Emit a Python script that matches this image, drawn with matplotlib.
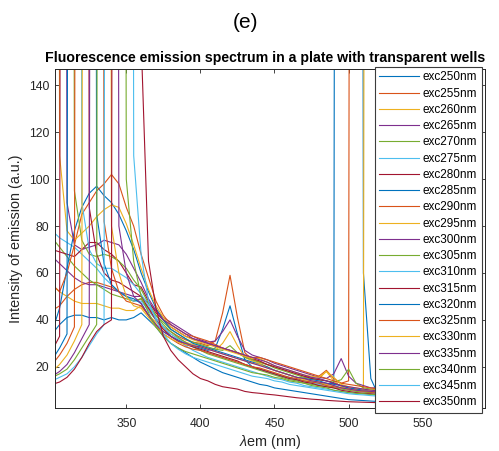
import matplotlib
matplotlib.use("Agg")
import matplotlib.pyplot as plt

plt.rcParams['font.family'] = ['Liberation Sans', 'DejaVu Sans']
plt.rcParams['mathtext.fontset'] = 'custom'
plt.rcParams['mathtext.it'] = 'Liberation Sans:italic'
plt.rcParams['mathtext.rm'] = 'Liberation Sans'

# emission wavelength grid (nm)
wl = list(range(300, 591, 5))

exc = [250, 255, 260, 265, 270, 275, 280, 285, 290, 295, 300,
       305, 310, 315, 320, 325, 330, 335, 340, 345, 350]
labels = ['exc%dnm' % e for e in exc]

S = 2000  # saturated scatter peak (off the chart)

exc250 = [34, 38, 41, 42, 42, 41, 41, 40, 41, 40, 40, 41, 43, 40, 37, 35,
          33, 31.5, 30, 29, 28, 27, 28, 36, 46, 34, 23, 20, 19, 18, 17, 16, 15.5, 14.5, 14, 13.5, 13, 12.5, 13, S, S,
          S, 60, 15, 8, 7.5, 7.3, 7, 6.8, 6.6, 6.4, 6.2, 6, 5.8, 5.6, 5.4, 5.2, 5, 4.8]
exc255 = [44, 46, 50, 53, 55, 56, 56, 55, 54, 52, 50, 48, 49, 44, 40, 37,
          35, 33, 31.5, 30.5, 30, 29, 31, 43, 59, 41, 26, 23, 22, 21, 20, 19, 18, 17, 16, 15.5, 16, 18.5, 15, 13, 14,
          S, S, S, 60, 12, 8.5, 8.2, 8, 7.8, 7.6, 7.4, 7.2, 7, 6.8, 6.6, 6.4, 6.2, 6]
exc260 = [55, 52, 50, 48, 47, 47, 47, 46, 45, 45, 44, 44, 46, 42, 39, 36,
          34, 32, 30.5, 29.5, 29, 28, 27, 30, 35, 29, 24, 22.5, 21.5, 20, 18.5, 17.5, 16.5, 15.5, 15, 14.5, 15, 18, 14, 11.5, 10.5,
          10, 10, S, S, S, 60, 12, 8.5, 8.2, 8, 7.8, 7.6, 7.3, 7, 6.8, 6.6, 6.4, 6.2]
exc265 = [67, 64, 61, 58, 56, 55, 55, 54, 53, 52, 51, 50, 50, 47, 44, 41,
          39, 37, 35, 33, 31.5, 30.5, 31, 35, 40, 33, 27, 25, 24, 23, 21.5, 20.5, 19.5, 18.5, 17.5, 16.5, 15.5, 15, 17, 23.5, 16,
          13, 12, 11, 11, S, S, S, 60, 12, 9, 8.5, 8, 7.5, 7.2, 7, 6.8, 6.6, 6.5]
exc270 = [75, 71, 67, 63, 60, 57, 55, 53, 51, 50, 49, 48, 49, 45, 42, 39,
          36, 34, 32, 30.5, 29.5, 28.5, 27.5, 27, 29, 26, 24, 23, 22, 21, 19.5, 18.5, 17.5, 16.5, 15.5, 15, 14.5, 14, 13.5, 14.5, 19,
          13, 11, 10.5, 10, 10, 9.5, S, S, S, 50, 11, 8.5, 8, 7.6, 7.3, 7, 6.8, 6.5]
exc275 = [78, 75, 73, 71, 68, 65, 62, 58, 55, 52, 50, 48, 48, 44, 40, 37,
          34, 32, 30, 28.5, 27, 26, 25, 24, 23, 22, 21, 20, 19, 18, 17, 16, 15, 14.5, 13.5, 13, 12.5, 12, 11.5, 11, 10.5,
          10, 9.5, 9, 8.8, 8.5, 8.2, 8, 8, S, S, S, 50, 10, 7.5, 7.2, 7, 6.8, 6.5]
exc280 = [70, 69, 68, 67, 70, 73, 73, 70, 68, 65, 60, 55, 54, 48, 43, 40,
          37, 35, 33, 32, 31, 30, 29, 28, 27, 26, 24.5, 23.5, 22.5, 21, 20, 19, 18, 17, 16, 15, 14.5, 14, 13, 12, 11,
          10.5, 10, 9.5, 9.2, 9, 8.7, 8.5, 8.2, 8, 7.8, S, S, S, 50, 10, 7, 6.8, 6.5]
exc285 = [35, 45, 62, 78, 88, 94, 97, 93, 90, 85, 78, 70, 60, 52, 45, 40,
          36, 34, 32, 30, 29, 28, 27, 26, 25, 24, 23, 22, 21, 20, 18.5, 17.5, 16.5, 15.5, 15, 14.5, 14, 13, 12.5, 12, 11,
          10.5, 10, 9.5, 9.2, 9, 8.7, 8.5, 8.2, 8, 7.8, 7.6, 7.4, S, S, S, 60, 10, 7]
exc290 = [55, 52, 60, 72, 85, 90, 95, 98, 102, 98, 88, 80, 68, 58, 48, 42,
          38, 36, 34, 33, 32, 31, 29.5, 28, 27, 26, 25, 24, 24, 23, 22, 21, 20, 19, 18, 17, 16, 15, 14, 13, 12.5,
          12, 11.5, 11, 10.5, 10, 9.8, 9.5, 9.2, 9, 8.8, 8.6, 8.4, 8.2, 8, S, S, S, 82]
exc295 = [S, 110, 78, 74, 77, 80, 84, 87, 89, 88, 81, 72, 62, 53, 46, 41,
          37, 35, 33, 31.5, 30.5, 29.5, 28.5, 27.5, 26.5, 25.5, 24.5, 23.5, 23.5, 22, 20.5, 19.5, 18.5, 17.5, 16.5, 16, 15.5, 18, 15.5, 12.5, 11.5,
          11, 10.5, 10.2, 10, 9.7, 9.5, 9.2, 9, 8.8, 8.6, 8.4, 8.2, 8, 7.8, 7.6, S, S, S]
exc300 = [S, S, 90, 72, 70, 71, 72, 74, 73, 72, 68, 62, 56, 49, 44, 40,
          38, 36, 34, 32, 31, 30, 29, 28, 27, 26, 25, 24, 23, 22, 20.5, 19.5, 18.5, 17.5, 16.5, 15.5, 15, 14, 13, 12, 11.5,
          11, 10.5, 10, 9.8, 9.5, 9.2, 9, 8.7, 8.5, 8.2, 8, 7.8, 7.6, 7.4, 7.2, 7, 6.8, 6.6]
exc305 = [S, S, S, 95, 74, 68, 67, 68, 67, 65, 62, 57, 53, 47, 42, 38,
          35, 32.5, 30.5, 28.5, 27, 25.5, 24.5, 23.5, 22.5, 21.5, 20.5, 19.5, 18.5, 17.5, 16.5, 15.5, 14.5, 14, 13, 12.5, 12, 11.5, 11, 10.5, 10,
          9.5, 9.2, 9, 8.7, 8.5, 8.2, 8, 7.7, 7.5, 7.2, 7, 6.8, 6.6, 6.4, 6.2, 6, 5.8, 5.6]
exc310 = [31, S, S, S, 90, 70, 64, 62, 62, 60, 58, 55, 51, 46, 41, 37,
          33, 31, 29, 27, 25.5, 24, 23, 22, 21, 20, 19, 18, 17, 16, 15, 14.5, 13.5, 13, 12, 11.5, 11, 10.5, 10, 9.5, 9,
          8.7, 8.5, 8.2, 8, 7.7, 7.5, 7.2, 7, 6.8, 6.6, 6.4, 6.2, 6, 5.8, 5.6, 5.4, 5.2, 5]
exc315 = [27, 33, S, S, S, 88, 68, 60, 57, 56, 54, 52, 50, 45, 40, 36,
          33, 31, 29.5, 28.5, 27.5, 26.5, 25.5, 24.5, 23.5, 22.5, 21, 20, 19, 18, 17, 16, 15, 14.5, 13.5, 13, 12, 11.5, 11, 10, 9.5,
          9, 8.7, 8.5, 8.2, 8, 7.7, 7.5, 7.2, 7, 6.8, 6.5, 6.3, 6.1, 5.9, 5.7, 5.5, 5.3, 5.1]
exc320 = [23, 28, 34, S, S, S, 85, 64, 55, 52, 50, 49, 47, 42, 37, 33,
          30, 28, 26, 24, 22, 20.5, 19, 17.5, 16.5, 15.5, 14.5, 13.5, 12.5, 12, 11, 10.5, 10, 9.5, 9, 8.5, 8, 7.5, 7, 6.5, 6,
          5.8, 5.6, 5.4, 5.2, 5, 4.9, 4.8, 4.7, 4.6, 4.5, 4.4, 4.3, 4.2, 4.1, 4, 3.9, 3.8, 3.7]
exc325 = [21, 25, 30, 37, S, S, S, 82, 62, 52, 48, 47, 46, 42, 38, 34,
          32, 30, 28.5, 27.5, 27, 26, 25, 24, 23, 22, 21, 20, 19.5, 18.5, 17.5, 16.5, 15.5, 15, 14, 13.5, 13, 12, 11.5, 11, 10.5,
          10, 9.5, 9.2, 9, 8.7, 8.5, 8.2, 8, 7.7, 7.5, 7.2, 7, 6.8, 6.6, 6.4, 6.2, 6, 5.8]
exc330 = [18, 21, 25, 31, 38, S, S, S, 80, 60, 50, 46, 45, 41, 37, 34,
          32, 30.5, 29.5, 29, 28.5, 27.5, 26.5, 25.5, 24.5, 23.5, 22.5, 21.5, 21, 19.5, 18.5, 17.5, 16.5, 15.5, 14.5, 14, 13.5, 12.5, 12, 11, 10.5,
          10, 9.7, 9.5, 9.2, 9, 8.7, 8.5, 8.2, 8, 7.7, 7.5, 7.2, 7, 6.8, 6.6, 6.4, 6.2, 6]
exc335 = [16, 18, 21, 26, 32, 38, S, S, S, 80, 60, 50, 47, 42, 38, 35,
          33, 31, 30, 29, 28.5, 27.5, 26.5, 25.5, 24.5, 23.5, 22.5, 21.5, 20.5, 19.5, 18.5, 17.5, 16.5, 15.5, 15, 14, 13.5, 13, 12, 11, 10.5,
          10, 9.7, 9.5, 9.2, 9, 8.7, 8.5, 8.2, 8, 7.7, 7.5, 7.2, 7, 6.8, 6.6, 6.4, 6.2, 6]
exc340 = [15.5, 17, 19, 23, 28, 33, 38, S, S, S, 100, 65, 50, 43, 37, 33,
          30, 28, 26.5, 25.5, 24.5, 23.5, 22.5, 21.5, 20.5, 19.5, 18.5, 17.5, 17, 16.5, 15.5, 15, 14, 13.5, 13, 12, 11.5, 11, 10, 9.5, 9,
          8.7, 8.5, 8.2, 8, 7.7, 7.5, 7.2, 7, 6.8, 6.5, 6.3, 6.1, 5.9, 5.7, 5.5, 5.3, 5.1, 5]
exc345 = [14, 15.5, 17, 20, 24, 29, 34, 38, S, S, S, 110, 68, 48, 40, 34,
          30, 27.5, 25.5, 24, 23, 22, 21, 20, 19, 18, 17, 16, 15.5, 15, 14, 13.5, 12.5, 12, 11.5, 11, 10.5, 10, 9.5, 9, 8.5,
          8.2, 8, 7.7, 7.5, 7.2, 7, 6.8, 6.5, 6.3, 6, 5.8, 5.6, 5.4, 5.2, 5, 4.8, 4.6, 4.5]
exc350 = [12.5, 13.5, 15.5, 19, 24, 30, 35, 38, 40, S, S, S, 160, 65, 45, 33,
          27, 23, 20, 17, 15, 14, 12.5, 11.5, 11, 10.5, 9.5, 9, 8.7, 8.3, 8, 7.6, 7.2, 6.8, 6.5, 6.2, 6, 5.7, 5.5, 5.3, 5.1,
          5, 4.9, 4.8, 4.7, 4.6, 4.5, 4.4, 4.3, 4.2, 4.1, 4, 3.9, 3.8, 3.7, 3.6, 3.5, 3.4, 3.3]

series = [exc250, exc255, exc260, exc265, exc270, exc275, exc280, exc285, exc290,
          exc295, exc300, exc305, exc310, exc315, exc320, exc325, exc330, exc335,
          exc340, exc345, exc350]

colors = ['#0072BD', '#D95319', '#EDB120', '#7E2F8E', '#77AC30', '#4DBEEE', '#A2142F']

W, H = 499, 451
fig = plt.figure(figsize=(W / 100, H / 100), dpi=100)
ax = fig.add_axes([54.7 / W, 1 - 408.3 / H, (484.5 - 54.7) / W, (408.3 - 68.5) / H])

for i, (vals, lab) in enumerate(zip(series, labels)):
    n = min(len(wl), len(vals))
    ax.plot(wl[:n], vals[:n], color=colors[i % 7], lw=0.8, label=lab)

ax.set_xlim(301.7, 591.7)
ax.set_ylim(2.3, 147.2)
ax.set_xticks([350, 400, 450, 500, 550])
ax.set_yticks([20, 40, 60, 80, 100, 120, 140])
ax.tick_params(direction='in', top=True, right=True, length=3.2, width=0.6,
               labelsize=8.7, colors='#262626')
ax.tick_params(axis='x', pad=7.0)
ax.tick_params(axis='y', pad=3.9)
for sp in ax.spines.values():
    sp.set_color('#262626')
    sp.set_linewidth(0.7)

leg = ax.legend(loc='upper left', bbox_to_anchor=(375 / W, 1 - 67.3 / H),
                bbox_transform=fig.transFigure, borderaxespad=0, fontsize=8.5,
                handlelength=3.4, handletextpad=0.31, borderpad=0.35,
                labelspacing=0.36, fancybox=False, framealpha=1)
leg.get_frame().set_edgecolor('#3c3c3c')
leg.get_frame().set_linewidth(0.8)

fig.text(245 / W, 1 - 22.5 / H, '(e)', fontsize=15, ha='center', va='center')
fig.text(265 / W, 1 - 62.3 / H, 'Fluorescence emission spectrum in a plate with transparent wells',
         fontsize=10.2, fontweight='bold', ha='center', va='baseline')
fig.text(15.8 / W, 1 - 239 / H, 'Intensity of emission (a.u.)', fontsize=10.4,
         rotation=90, ha='center', va='center', color='#262626')
fig.text(270.5 / W, 1 - 446 / H, r'$\lambda$em (nm)', fontsize=10.4,
         ha='center', va='baseline', color='#262626')

fig.savefig('out.png', dpi=100)
